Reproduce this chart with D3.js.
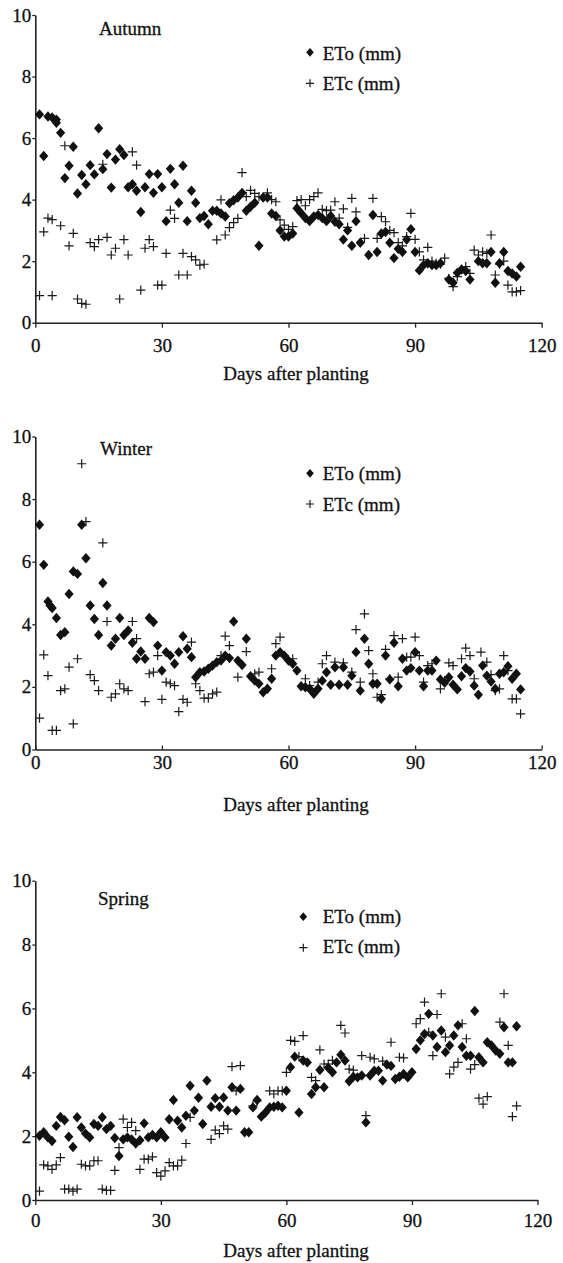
<!DOCTYPE html>
<html>
<head>
<meta charset="utf-8">
<script src="https://cdn.jsdelivr.net/npm/d3@7"></script>
<style>
html,body{margin:0;padding:0;background:#fff;}
svg{display:block;}
text{font-family:"Liberation Serif","Times New Roman",serif;fill:#111;stroke:#111;stroke-width:0.3px;}
</style>
</head>
<body>
<svg id="chart" width="563" height="1263"></svg>
<script>
// ---------- DATA ----------
const xTicks = [0, 30, 60, 90, 120];
const yTicks = [0, 2, 4, 6, 8, 10];
const seasons = ["Autumn", "Winter", "Spring"];
const seriesNames = ["ETo (mm)", "ETc (mm)"];

// Autumn
const autumnEToDays = [1,2,3,4,5,5,6,7,8,9,10,11,12,13,14,15,16,17,18,19,20,21,22,23,24,25,26,27,28,29,30,31,32,33,34,35,36,37,38,39,
  40,41,42,43,44,45,46,47,48,49,50,51,52,53,54,55,56,57,58,59,60,61,62,63,64,65,66,67,68,69,70,71,72,73,74,75,76,77,79,80,81,
  82,83,84,85,86,87,88,89,90,91,92,93,94,95,96,98,99,100,101,102,103,105,106,107,108,109,110,111,112,113,114,115];
const autumnETo = [6.77,5.42,6.7,6.67,6.6,6.5,6.17,4.7,5.1,5.72,4.2,4.8,4.5,5.12,4.82,6.32,4.99,5.48,4.39,5.3,5.64,5.45,4.4,4.5,4.29,3.6,4.4,4.83,4.22,4.83,4.4,3.3,5.0,4.5,3.9,5.1,3.3,4.29,3.9,3.4,
  3.47,3.2,3.64,3.64,3.55,3.45,3.88,3.98,4.07,4.22,3.64,3.77,3.9,2.5,4.07,4.07,3.55,3.47,3.0,2.8,2.8,2.9,3.72,3.56,3.4,3.3,3.45,3.5,3.4,3.3,3.47,3.28,3.2,2.7,3.0,2.5,3.3,2.6,2.2,3.5,2.3,
  2.9,2.95,2.6,2.1,2.4,2.3,2.7,3.04,2.3,1.7,1.87,1.93,1.87,1.87,1.93,1.4,1.3,1.62,1.73,1.68,1.4,2.0,1.93,1.93,2.3,1.3,1.93,2.3,1.68,1.6,1.5,1.82];
const autumnETcDays = [1,2,3,4,4,6,7,8,9,10,11,12,13,14,15,16,17,18,19,20,21,22,23,24,25,26,27,28,29,30,31,32,33,34,35,36,37,38,39,40,
  43,44,45,46,47,48,49,50,51,52,53,55,56,57,58,59,60,61,62,63,64,65,66,67,68,69,70,71,72,73,74,75,76,78,80,81,
  82,83,84,85,86,87,88,89,90,91,92,93,94,95,96,97,98,99,100,101,102,103,104,105,106,107,108,109,110,111,112,113,114,115];
const autumnETc = [0.88,2.95,3.4,0.88,3.35,3.15,5.75,2.5,2.9,0.77,0.63,0.6,2.6,2.47,2.7,5.15,2.77,2.2,2.42,0.77,2.7,2.2,5.55,5.12,1.06,2.42,2.7,2.47,1.22,1.22,2.25,3.66,3.39,1.55,2.25,1.55,2.15,2.04,1.87,1.9,
  2.69,3.99,2.85,3.09,3.25,3.39,4.88,4.1,4.3,4.2,4.1,4.22,4.0,3.93,3.34,3.17,3.03,3.12,3.97,4.0,3.8,4.0,4.1,4.22,3.68,3.64,3.66,3.93,3.4,3.7,3.1,4.04,3.6,2.74,4.04,2.74,
  3.45,3.28,3.0,2.93,2.6,2.5,2.8,3.55,2.71,2.3,2.04,2.45,2.0,1.93,1.9,2.1,1.44,1.17,1.5,1.73,1.82,1.6,2.36,2.2,2.3,2.25,2.85,1.55,1.9,2.0,1.22,1.0,1.0,1.04];

// Winter
const winterEToDays = [1,2,3,3.5,4,5,6,7,8,9,10,11,12,13,14,15,16,17,18,19,20,21,22,23,24,25,26,27,28,29,30,31,32,33,34,35,36,
  37,38,39,40,41,42,43,44,45,46,47,48,49,50,51,52,53,54,55,56,57,58,59,60,61,62,63,64,65,66,67,68,69,70,71,72,73,74,75,76,77,78,79,80,
  81,82,83,84,85,86,87,88,89,90,91,92,93,94,95,96,97,98,99,100,101,102,103,104,105,106,107,108,109,110,111,112,113,114,115];
const winterETo = [7.18,5.9,4.73,4.6,4.52,4.2,3.66,3.75,4.97,5.69,5.61,7.18,6.11,4.6,4.17,3.66,5.32,4.6,3.32,3.54,4.2,3.66,3.8,3.41,2.9,3.13,2.9,4.2,4.07,3.32,2.52,3.11,3.0,2.74,3.11,3.62,3.22,
  2.95,2.31,2.47,2.49,2.58,2.68,2.79,2.84,3.0,2.92,4.09,2.84,2.7,3.54,2.34,2.2,2.1,1.83,1.94,2.26,3.0,3.11,3.0,2.84,2.74,2.52,2.02,1.99,1.94,1.78,1.94,2.2,2.47,2.07,2.63,2.07,2.63,2.07,2.36,3.11,1.88,3.54,2.74,2.1,
  2.1,1.62,3.0,2.24,3.41,2.02,2.9,2.52,2.6,3.11,2.52,2.02,2.52,2.52,2.84,2.24,2.13,2.31,2.07,1.92,2.34,2.6,2.49,2.04,1.75,2.68,2.36,2.17,1.94,2.42,2.47,2.66,2.26,2.42,1.92];
const winterETcDays = [1,2,3,4,5,6,7,8,9,10,11,12,13,14,15,16,17,18,19,20,21,22,23,24,26,27,28,29,30,31,32,33,34,35,36,37,38,39,40,41,42,43,44,45,46,48,50,52,53,56,57,58,59,61,64,65,67,68,69,71,73,75,76,77,78,79,80,
  81,82,83,84,85,86,87,88,89,90,91,92,93,94,96,97,98,99,101,102,103,104,105.6,107,108,109,110,111,112,113,114,115];
const winterETc = [1.0,3.02,2.36,0.61,0.61,1.88,1.94,2.63,0.82,2.9,9.13,7.28,2.39,2.2,1.88,6.6,4.09,1.67,1.78,2.1,1.94,1.88,4.09,3.54,1.53,2.42,2.47,3.0,1.6,2.15,2.1,2.04,1.21,1.6,1.51,3.43,2.1,1.88,1.64,1.64,1.78,1.83,3.0,3.62,3.32,2.31,3.13,2.42,2.47,2.58,3.38,3.59,3.0,2.9,2.26,2.04,2.15,2.74,3.0,2.79,2.77,2.47,3.83,2.15,4.33,3.16,2.42,
  1.67,1.75,3.2,2.26,3.64,2.31,3.54,2.95,2.95,3.59,3.0,2.15,2.68,2.74,1.94,2.2,2.77,2.68,2.9,3.24,3.0,2.26,3.11,2.79,2.39,1.88,1.94,3.0,2.52,1.62,1.62,1.14];

// Spring
const springEToDays = [1,2,3,4,5,6,7,8,9,10,11,12,13,14,15,16,17,18,19,20,21,22,23,24,25,26,27,28,29,30,31,32,33,34,35,36,37,38,39,
  40,41,42,43,44,45,46,47,48,49,50,51,52,53,54,55,56,57,58,59,60,61,62,63,64,65,66,67,68,69,70,71,72,73,74,75,76,77,78,79,80,81,
  82,83,84,85,86,87,88,89,90,91,92,93,94,95,96,97,98,99,100,101,102,103,104,105,106,107,108,109,110,111,112,113,114,115];
const springETo = [2.01,2.12,1.96,1.85,2.32,2.6,2.5,1.98,1.66,2.59,2.27,2.08,1.96,2.38,2.32,2.59,2.22,2.32,1.94,1.38,1.9,1.96,1.9,1.77,1.87,2.4,1.96,2.04,1.96,2.12,1.96,2.53,3.13,2.48,2.27,2.64,3.58,2.8,3.2,
  2.38,3.74,2.92,3.19,2.92,3.21,2.8,3.53,2.8,3.48,2.12,2.12,2.9,3.13,2.61,2.74,2.9,2.92,2.95,2.9,3.42,4.16,4.49,2.74,4.37,4.31,3.32,3.53,4.07,3.53,4.14,4.0,4.31,4.55,4.37,3.72,3.86,3.84,3.9,2.43,3.9,4.05,
  4.05,3.74,4.24,4.2,3.79,3.86,3.95,3.84,4.0,4.73,5.0,5.2,5.83,5.15,4.79,5.31,4.63,4.84,5.15,5.47,4.79,4.52,4.52,5.92,4.47,4.31,4.94,4.84,4.68,4.58,5.41,4.31,4.31,5.44];
const springETcDays = [1,2,3,4,5,6,7,8,9,10,11,12,13,14,15,16,17,18,19,20,21,22,23,24,25,26,27,28,29,30,31,32,33,34,35,36,37,
  42,43,44,45,46,47,48,49,52,53,56,57,58,59,60,61,62,63,64,66,67,68,69,70,71,73,74,75,76,78,79,80,81,
  83,85,87,88,91,92,93,94,95,96,97,98,99,100,101,102,103,104,105,106,107,108,111,112,113,114,115];
const springETc = [0.28,1.1,1.07,0.96,1.1,1.33,0.34,0.34,0.28,0.34,1.12,1.07,1.07,1.23,1.23,0.34,0.3,0.3,0.93,1.64,2.53,2.27,2.43,2.17,0.96,1.28,1.28,1.35,0.86,0.75,0.91,1.17,1.07,1.07,1.25,1.77,2.59,
  1.9,2.19,2.08,2.32,2.22,4.18,3.42,4.21,2.95,3.1,3.42,3.32,3.42,3.42,4.0,5.0,4.97,4.49,5.15,3.84,3.74,4.7,4.26,4.26,4.37,5.47,5.23,4.1,4.07,4.52,2.64,4.47,4.42,
  4.35,4.94,4.47,4.45,5.52,5.68,6.2,5.26,4.52,5.81,6.46,5.1,3.95,4.16,4.31,5.52,5.05,4.1,4.24,3.19,3.0,3.24,5.57,6.46,4.84,2.61,2.95];

// ---------- LAYOUT ----------
const layout = [
  {title: seasons[0], eD: autumnEToDays, eV: autumnETo, cD: autumnETcDays, cV: autumnETc,
   xr: [35.3, 541.7], yr: [322.7, 15], tickX: 5, padX: 11, titleY: 380,
   label: {x: 99, y: 35}, leg: {mx: 310, tx: 322.7, y1: 52.3, y2: 83.3, b1: 59.5, b2: 89.5}},
  {title: seasons[1], eD: winterEToDays, eV: winterETo, cD: winterETcDays, cV: winterETc,
   xr: [35.3, 541.7], yr: [749.5, 436.5], tickX: -4, padX: 6, titleY: 810.5,
   label: {x: 100, y: 454.5}, leg: {mx: 310, tx: 322.7, y1: 473.3, y2: 504, b1: 480, b2: 511}},
  {title: seasons[2], eD: springEToDays, eV: springETo, cD: springETcDays, cV: springETc,
   xr: [35.3, 537.5], yr: [1200, 880.7], tickX: 5, padX: 8.5, titleY: 1257,
   label: {x: 98, y: 905}, leg: {mx: 303.3, tx: 322.7, y1: 916.7, y2: 947.7, b1: 923, b2: 953}}
];

const svg = d3.select("#chart");
const ink = "#111";
const diamond = "M0,-5.2L4.6,0L0,5.2L-4.6,0Z";
const plus = "M-4.6,0H4.6M0,-4.6V4.6";

layout.forEach(p => {
  const x = d3.scaleLinear().domain([0, 120]).range(p.xr);
  const y = d3.scaleLinear().domain([0, 10]).range(p.yr);
  const g = svg.append("g");

  // axes
  const ya = g.append("g").attr("transform", `translate(${p.xr[0]},0)`)
    .call(d3.axisLeft(y).tickValues(yTicks).tickSize(3).tickPadding(1).tickSizeOuter(0));
  const xa = g.append("g").attr("transform", `translate(0,${p.yr[0]})`)
    .call(d3.axisBottom(x).tickValues(xTicks).tickSize(p.tickX).tickPadding(p.padX).tickSizeOuter(0));
  [ya, xa].forEach(a => {
    a.select(".domain").attr("stroke", "#222").attr("stroke-width", 1.6);
    a.selectAll(".tick line").attr("stroke", "#222").attr("stroke-width", 1.3);
    a.selectAll(".tick text").attr("fill", ink).style("font-size", "19px")
      .style("font-family", '"Liberation Serif", serif');
  });

  g.append("text").attr("x", 296).attr("y", p.titleY).attr("text-anchor", "middle")
    .style("font-size", "19px").text("Days after planting");
  g.append("text").attr("x", p.label.x).attr("y", p.label.y)
    .style("font-size", "19px").text(p.title);

  // ETc pluses
  const cPts = p.cD.map((d, i) => [d, p.cV[i]]).filter(d => d[1] != null);
  g.append("g").selectAll("path").data(cPts).join("path")
    .attr("d", plus).attr("transform", d => `translate(${x(d[0])},${y(d[1])})`)
    .attr("stroke", "#1a1a1a").attr("stroke-width", 1.2).attr("fill", "none");
  // ETo diamonds
  const ePts = p.eD.map((d, i) => [d, p.eV[i]]).filter(d => d[1] != null);
  g.append("g").selectAll("path").data(ePts).join("path")
    .attr("d", diamond).attr("transform", d => `translate(${x(d[0])},${y(d[1])})`)
    .attr("fill", ink);

  // legend
  g.append("path").attr("d", "M0,-4.4L3.8,0L0,4.4L-3.8,0Z")
    .attr("transform", `translate(${p.leg.mx},${p.leg.y1})`).attr("fill", ink);
  g.append("path").attr("d", "M-4,0H4M0,-4V4")
    .attr("transform", `translate(${p.leg.mx},${p.leg.y2})`).attr("stroke", "#1a1a1a").attr("stroke-width", 1.2);
  g.append("text").attr("x", p.leg.tx).attr("y", p.leg.b1).style("font-size", "19px").text(seriesNames[0]);
  g.append("text").attr("x", p.leg.tx).attr("y", p.leg.b2).style("font-size", "19px").text(seriesNames[1]);
});
</script>
</body>
</html>
